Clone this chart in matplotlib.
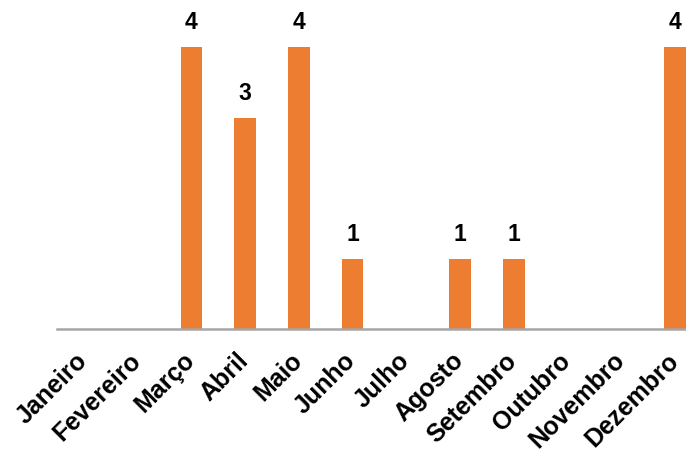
import matplotlib.pyplot as plt
import matplotlib.transforms as mtransforms
import numpy as np

plt.rcParams['font.family'] = ['Liberation Sans', 'DejaVu Sans']

meses = ["Janeiro", "Fevereiro", "Março", "Abril", "Maio", "Junho", "Julho",
         "Agosto", "Setembro", "Outubro", "Novembro", "Dezembro"]
valores = [0, 0, 4, 3, 4, 1, 0, 1, 1, 0, 0, 4]

W, H = 686, 455
fig = plt.figure(figsize=(W / 100, H / 100), dpi=100)
# eixo estende-se para lá da margem direita (a última barra aparece cortada)
ax = fig.add_axes([57 / W, (H - 329) / H, 645 / W, (329 - 47) / H])

x = np.arange(len(meses))
ax.bar(x, valores, width=0.4, color="#ED7D31")
ax.set_xlim(-0.5, len(meses) - 0.5)
ax.set_ylim(0, 4)

for xi, v in zip(x, valores):
    if v > 0:
        ax.text(xi, v + 0.18, str(v), ha="center", va="bottom",
                fontsize=16.5, fontweight="bold", clip_on=False)

for s in ["top", "right", "left"]:
    ax.spines[s].set_visible(False)
ax.spines["bottom"].set_color("#A6A6A6")
ax.spines["bottom"].set_linewidth(1.8)
ax.set_yticks([])
ax.set_xticks(x)
ax.set_xticklabels(meses, rotation=45, ha="right", rotation_mode="anchor",
                   fontsize=18, fontweight="bold")
ax.tick_params(axis="x", length=0, pad=14)

# desloca ligeiramente os rótulos para a esquerda
offset = mtransforms.ScaledTranslation(-9 / 100, 0, fig.dpi_scale_trans)
for lbl in ax.get_xticklabels():
    lbl.set_transform(lbl.get_transform() + offset)

fig.savefig("out.png", dpi=100)
